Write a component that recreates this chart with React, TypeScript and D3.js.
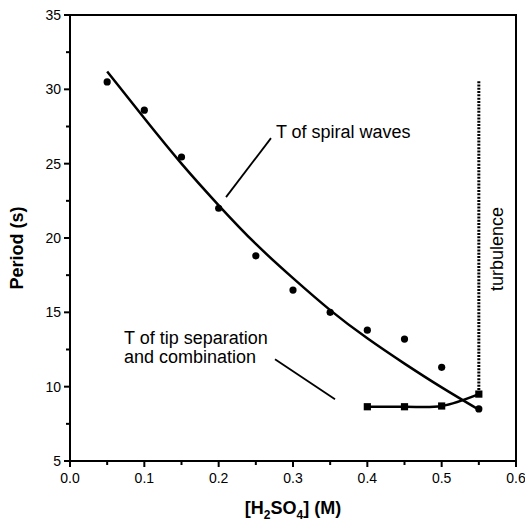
import React from "react";
import * as d3 from "d3";

// Measured spiral-wave periods (circles)
const spiralX = [0.05, 0.1, 0.15, 0.2, 0.25, 0.3, 0.35, 0.4, 0.45, 0.5, 0.55];
const spiralY = [30.5, 28.6, 25.45, 22.0, 18.8, 16.5, 15.0, 13.8, 13.2, 11.3, 8.5];

// Fitted curve for spiral-wave periods
const fitX = [0.05, 0.1, 0.15, 0.2, 0.25, 0.3, 0.35, 0.4, 0.45, 0.5, 0.55];
const fitY = [31.2, 28.05, 25.0, 22.2, 19.6, 17.3, 15.15, 13.25, 11.55, 9.95, 8.45];

// Tip separation/combination periods (squares)
const tipX = [0.4, 0.45, 0.5, 0.55];
const tipY = [8.65, 8.65, 8.7, 9.5];

// Turbulence boundary (dotted vertical line)
const turbX = [0.55, 0.55];
const turbY = [30.55, 9.5];

// Annotation leader lines (data coordinates)
const spiralArrow = [[0.2099, 22.75], [0.2704, 26.72]];
const tipArrow = [[0.2758, 11.85], [0.3565, 9.16]];

const xTicks = [0, 0.1, 0.2, 0.3, 0.4, 0.5, 0.6];
const xMinor = [0.05, 0.15, 0.25, 0.35, 0.45, 0.55];
const yTicks = [5, 10, 15, 20, 25, 30, 35];
const yMinor = [7.5, 12.5, 17.5, 22.5, 27.5, 32.5];

const W = 525;
const H = 522;
const M = { left: 70, top: 15, right: 9, bottom: 61 };

export default function App() {
  const x = d3.scaleLinear().domain([0, 0.6]).range([M.left, W - M.right]);
  const y = d3.scaleLinear().domain([5, 35]).range([H - M.bottom, M.top]);
  const x0 = x(0), x1 = x(0.6), y0 = y(5), y1 = y(35);

  const fitLine = d3
    .line<number>()
    .x((_, i) => x(fitX[i]))
    .y((d) => y(d))
    .curve(d3.curveNatural)(fitY) as string;

  const tipLine = d3
    .line<number>()
    .x((_, i) => x(tipX[i]))
    .y((d) => y(d))
    .curve(d3.curveCatmullRom.alpha(0.5))(tipY) as string;

  const turbLine = d3
    .line<number>()
    .x((_, i) => x(turbX[i]))
    .y((d) => y(d))(turbY) as string;

  const font = "'Liberation Sans', Arial, Helvetica, sans-serif";
  const fmt = d3.format(".1f");

  return (
    <svg
      width={W}
      height={H}
      style={{ position: "absolute", left: 0, top: 0, background: "#fff" }}
      fontFamily={font}
    >
      <rect x={0} y={0} width={W} height={H} fill="#fff" />
      {/* frame */}
      <path
        d={`M${x0},${y0}V${y1}H${x1}V${y0}Z`}
        fill="none"
        stroke="#000"
        strokeWidth={2}
      />
      {/* x ticks */}
      {xTicks.map((t) => (
        <g key={"xt" + t}>
          <line x1={x(t)} x2={x(t)} y1={y0} y2={y0 + 6} stroke="#000" strokeWidth={2} />
          <text x={x(t)} y={y0 + 22} fontSize={14} textAnchor="middle" fill="#000">
            {fmt(t)}
          </text>
        </g>
      ))}
      {xMinor.map((t) => (
        <line key={"xm" + t} x1={x(t)} x2={x(t)} y1={y0} y2={y0 + 4} stroke="#000" strokeWidth={2} />
      ))}
      {/* y ticks */}
      {yTicks.map((t) => (
        <g key={"yt" + t}>
          <line x1={x0 - 6} x2={x0} y1={y(t)} y2={y(t)} stroke="#000" strokeWidth={2} />
          <text x={x0 - 9} y={y(t) + 5} fontSize={14} textAnchor="end" fill="#000">
            {t}
          </text>
        </g>
      ))}
      {yMinor.map((t) => (
        <line key={"ym" + t} x1={x0 - 4} x2={x0} y1={y(t)} y2={y(t)} stroke="#000" strokeWidth={2} />
      ))}

      {/* axis titles */}
      <text
        transform={`translate(23,${(y0 + y1) / 2 + 10}) rotate(-90)`}
        fontSize={18}
        fontWeight="bold"
        textAnchor="middle"
        fill="#000"
      >
        Period (s)
      </text>
      <text x={(x0 + x1) / 2} y={514} fontSize={18} fontWeight="bold" textAnchor="middle" fill="#000">
        [H<tspan fontSize={12} dy={5}>2</tspan>
        <tspan dy={-5}>SO</tspan>
        <tspan fontSize={12} dy={5}>4</tspan>
        <tspan dy={-5}>] (M)</tspan>
      </text>

      {/* data */}
      <path d={turbLine} fill="none" stroke="#000" strokeWidth={3} strokeDasharray="2 1.3" />
      <path d={fitLine} fill="none" stroke="#000" strokeWidth={2.5} />
      <path d={tipLine} fill="none" stroke="#000" strokeWidth={2.5} />
      {spiralX.map((v, i) => (
        <circle key={"c" + i} cx={x(v)} cy={y(spiralY[i])} r={3.6} fill="#000" />
      ))}
      {tipX.map((v, i) => (
        <rect key={"s" + i} x={x(v) - 3.6} y={y(tipY[i]) - 3.6} width={7.2} height={7.2} fill="#000" />
      ))}

      {/* annotations */}
      <line
        x1={x(spiralArrow[0][0])}
        y1={y(spiralArrow[0][1])}
        x2={x(spiralArrow[1][0])}
        y2={y(spiralArrow[1][1])}
        stroke="#000"
        strokeWidth={1.8}
      />
      <text x={x(0.277)} y={y(26.75)} fontSize={18} fill="#000">
        T of spiral waves
      </text>
      <line
        x1={x(tipArrow[0][0])}
        y1={y(tipArrow[0][1])}
        x2={x(tipArrow[1][0])}
        y2={y(tipArrow[1][1])}
        stroke="#000"
        strokeWidth={1.8}
      />
      <text x={x(0.0727)} y={y(12.9)} fontSize={18} fill="#000">
        T of tip separation
      </text>
      <text x={x(0.0727)} y={y(11.62)} fontSize={18} fill="#000">
        and combination
      </text>
      <text
        transform={`translate(503,249) rotate(-90)`}
        fontSize={18}
        textAnchor="middle"
        fill="#000"
      >
        turbulence
      </text>
    </svg>
  );
}
